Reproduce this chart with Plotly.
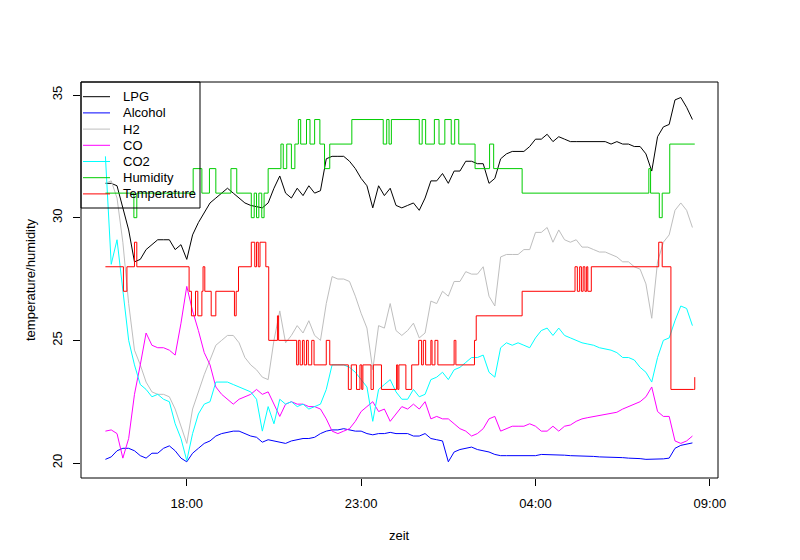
import pandas as pd
import plotly.graph_objects as go

# sensor readings, sampled every 10 minutes from 15:40 to 08:30
start = "2020-01-01 15:40"
end = "2020-01-02 08:30"

lpg = [31.4, 31.4, 31.3, 30.4, 29.5, 28.2, 28.3, 28.7, 28.9, 29.1, 29.1, 29.1, 28.7, 28.9, 28.3, 29.3, 29.8, 30.2, 30.6, 30.8, 31.0, 31.2, 31.0, 30.8, 30.6,
       30.5, 30.45, 30.4, 30.6, 31.2, 31.7, 31.0, 30.8, 31.2, 30.9, 31.3, 31.0, 31.1, 32.4, 32.5, 32.5, 32.5, 32.3, 32.0, 31.6, 31.3, 30.4, 31.3, 30.9, 31.2, 30.5,
       30.4, 30.5, 30.6, 30.3, 30.8, 31.5, 31.5, 31.8, 31.4, 31.9, 31.9, 32.3, 32.3, 32.2, 32.2, 31.4, 31.6, 32.4, 32.6, 32.7, 32.7, 32.7, 32.9, 33.2, 33.2, 33.4,
       33.1, 33.3, 33.2, 33.1, 33.1, 33.1, 33.1, 33.1, 33.1, 33.1, 33.0, 33.1, 33.0, 33.0, 32.9, 32.9, 32.6, 31.9, 33.3, 33.7, 33.8, 34.8, 34.9, 34.5, 34.0]

alcohol = [20.15, 20.25, 20.5, 20.6, 20.6, 20.5, 20.3, 20.2, 20.4, 20.4, 20.6, 20.7, 20.5, 20.2, 20.05, 20.4, 20.6, 20.8, 20.9, 21.1, 21.2, 21.25, 21.3, 21.3, 21.2,
           21.1, 21.05, 20.85, 20.95, 20.9, 20.85, 20.8, 20.9, 20.95, 21.0, 21.0, 21.05, 21.2, 21.3, 21.35, 21.35, 21.4, 21.35, 21.3, 21.3, 21.2, 21.15, 21.2, 21.2, 21.25, 21.2,
           21.2, 21.2, 21.1, 21.1, 21.2, 21.0, 20.95, 20.9, 20.05, 20.45, 20.55, 20.6, 20.65, 20.55, 20.5, 20.45, 20.35, 20.3, 20.3, 20.3, 20.3, 20.3, 20.3, 20.3, 20.35, 20.35,
           20.33, 20.32, 20.32, 20.3, 20.3, 20.28, 20.27, 20.27, 20.25, 20.25, 20.24, 20.23, 20.22, 20.2, 20.2, 20.18, 20.15, 20.15, 20.17, 20.17, 20.2, 20.6, 20.72, 20.78, 20.82]

h2 = [31.4, 31.5, 30.8, 29.0, 26.5, 24.6, 24.0, 23.3, 22.9, 22.8, 22.8, 22.7, 22.2, 21.5, 20.8, 22.2, 22.9, 23.6, 24.2, 24.8, 25.0, 25.2, 25.2, 24.9, 24.3,
      24.0, 23.8, 23.5, 23.4, 25.0, 26.2, 24.9, 25.2, 25.6, 25.3, 25.8, 25.2, 25.0, 26.5, 27.6, 27.5, 27.5, 27.4, 26.8, 26.1, 25.5, 23.8, 25.6, 25.5, 26.5, 25.4,
      25.2, 25.4, 25.7, 25.1, 25.3, 26.6, 26.5, 27.0, 26.8, 27.4, 27.4, 27.8, 27.7, 27.7, 28.0, 26.8, 26.4, 28.4, 28.5, 28.5, 28.5, 28.7, 28.7, 29.4, 29.4, 29.6,
      29.0, 29.5, 29.1, 29.0, 29.1, 28.8, 28.8, 28.7, 28.6, 28.6, 28.5, 28.4, 28.2, 28.2, 28.0, 27.9, 27.3, 25.9, 28.2, 29.0, 29.3, 30.3, 30.6, 30.3, 29.6]

co = [21.3, 21.35, 21.2, 20.2, 21.0, 22.8, 24.0, 25.3, 24.8, 24.7, 24.7, 24.6, 24.4, 25.7, 27.2, 26.2, 25.4, 24.5, 24.0, 23.1, 22.8, 22.6, 22.4, 22.6, 22.7,
      22.8, 23.0, 22.8, 22.9, 22.4, 21.9, 22.4, 22.5, 22.4, 22.4, 22.3, 22.3, 22.2, 21.8, 21.3, 21.2, 21.3, 21.4, 21.7, 22.1, 22.3, 22.5, 22.1, 22.2, 21.7, 22.0,
      22.3, 22.2, 22.4, 22.2, 22.5, 21.8, 21.9, 21.8, 21.8, 21.6, 21.4, 21.3, 21.1, 21.2, 21.4, 21.8, 21.9, 21.3, 21.4, 21.5, 21.5, 21.5, 21.6, 21.5, 21.3, 21.3,
      21.5, 21.3, 21.5, 21.55, 21.7, 21.8, 21.85, 21.9, 21.95, 22.0, 22.05, 22.07, 22.2, 22.3, 22.4, 22.5, 22.7, 23.1, 22.1, 21.9, 21.9, 20.9, 20.8, 20.9, 21.1]

co2 = [32.5, 28.1, 29.1, 27.1, 25.0, 24.0, 23.2, 23.0, 22.7, 22.8, 22.6, 22.5, 21.6, 21.0, 20.1, 21.2, 22.0, 22.4, 22.5, 23.3, 23.3, 23.3, 23.2, 23.1, 23.0,
       22.9, 22.6, 21.3, 22.3, 21.6, 22.6, 22.4, 22.5, 22.3, 22.4, 22.2, 22.3, 22.4, 23.0, 24.0, 24.0, 24.0, 23.9, 23.7, 23.4, 23.1, 21.7, 23.0, 23.2, 23.4, 22.9,
       22.6, 22.6, 23.0, 22.7, 22.8, 23.4, 23.5, 23.7, 23.4, 23.8, 23.9, 24.1, 24.3, 24.3, 24.4, 23.7, 23.5, 24.7, 24.9, 24.8, 24.9, 24.8, 24.7, 25.1, 25.4, 25.5,
       25.2, 25.5, 25.2, 25.1, 25.0, 24.9, 24.85, 24.8, 24.7, 24.65, 24.6, 24.5, 24.3, 24.3, 24.2, 23.9, 23.7, 23.3, 24.3, 25.0, 25.1, 25.8, 26.4, 26.3, 25.6]

# humidity and temperature only change in whole steps: (clock time, new value)
hum_times = ["15:40", "16:29", "16:34", "18:11", "18:26", "18:39", "18:50", "19:16", "19:26",
             "19:51", "19:56", "20:00", "20:04", "20:09", "20:13", "20:20", "20:42", "20:46", "20:52",
             "21:00", "21:06", "21:12", "21:16", "21:26", "21:32", "21:40", "21:49", "21:57", "22:06",
             "22:44", "23:38", "23:44", "23:48", "23:52", "00:40", "00:45", "00:51", "01:06", "01:14",
             "01:24", "01:35", "01:41", "01:48", "02:16", "02:41", "02:48", "03:37", "07:15", "07:18",
             "07:33", "07:38", "07:51", "08:34"]
hum_vals = [31, 30, 31, 32, 31, 32, 31, 32, 31,
            30, 31, 30, 31, 30, 31, 32, 33, 32, 33,
            32, 33, 34, 33, 34, 33, 34, 33, 32, 33,
            34, 33, 34, 33, 34, 33, 34, 33, 34, 33,
            34, 33, 34, 33, 32, 33, 32, 31, 32, 31,
            30, 31, 33, 33]

temp_times = ["15:40", "16:11", "16:17", "16:30", "16:34", "18:04", "18:08", "18:15", "18:19", "18:26",
              "18:28", "18:31", "18:42", "18:50", "19:22", "19:25", "19:29", "19:51", "19:57", "20:00",
              "20:03", "20:06", "20:16", "20:21", "20:36", "20:38", "21:09", "21:12", "21:15", "21:19",
              "21:22", "21:26", "21:29", "21:35", "21:39", "22:00", "22:06", "22:38", "22:43", "22:52",
              "22:58", "23:01", "23:03", "23:17", "23:21", "23:35", "00:01", "00:03", "00:05", "00:17",
              "00:27", "00:39", "00:44", "00:47", "00:51", "01:00", "01:02", "01:07", "01:12", "01:40",
              "01:43", "02:15", "02:18", "03:37", "05:08", "05:12", "05:16", "05:19", "05:22", "05:25",
              "05:28", "05:30", "05:36", "07:32", "07:38", "07:53", "08:32", "08:34"]
temp_vals = [28, 27, 28, 29, 28, 27, 26, 27, 26, 27,
             28, 27, 26, 27, 26, 27, 28, 29, 28, 29,
             28, 29, 28, 25, 26, 25, 24, 25, 24, 25,
             24, 25, 24, 25, 24, 25, 24, 23, 24, 23,
             24, 23, 24, 23, 24, 23, 24, 23, 24, 23,
             24, 25, 24, 25, 24, 25, 24, 25, 24, 25,
             24, 25, 26, 27, 28, 27, 28, 27, 28, 27,
             28, 27, 28, 29, 28, 23, 23, 23.5]

x_ticks = ["2020-01-01 18:00", "2020-01-01 23:00", "2020-01-02 04:00", "2020-01-02 09:00"]
x_labels = ["18:00", "23:00", "04:00", "09:00"]
y_ticks = [20, 25, 30, 35]


def to_stamp(hhmm):
    # times after midnight belong to the second day
    day = "2020-01-01" if int(hhmm[:2]) >= 12 else "2020-01-02"
    return pd.Timestamp(f"{day} {hhmm}")


grid = pd.date_range(start, end, freq="10min")
hum_x = [to_stamp(t) for t in hum_times]
temp_x = [to_stamp(t) for t in temp_times]

series = [
    ("LPG", grid, lpg, "#000000", "linear"),
    ("Alcohol", grid, alcohol, "#0000FF", "linear"),
    ("H2", grid, h2, "#BEBEBE", "linear"),
    ("CO", grid, co, "#FF00FF", "linear"),
    ("CO2", grid, co2, "#00FFFF", "linear"),
    ("Humidity", hum_x, hum_vals, "#00CD00", "hv"),
    ("Temperature", temp_x, temp_vals, "#FF0000", "hv"),
]

# page is offset by the body margin, so the figure is a bit smaller than the window
W, H = 792, 552
L, T, R, B = 73, 74, 82, 82
PW, PH = W - L - R, H - T - B


def px(dx):
    # pixels from the left edge of the plot box -> paper x
    return dx / PW


def py(dy):
    # pixels from the top edge of the plot box -> paper y
    return 1 - dy / PH


fig = go.Figure()
for name, xs, ys, color, shape in series:
    fig.add_trace(go.Scatter(x=xs, y=ys, name=name, mode="lines", showlegend=False,
                             line=dict(color=color, width=1, shape=shape)))

# hand drawn legend, R style: no fill, tight rows
fig.add_shape(type="rect", xref="paper", yref="paper",
              x0=0, y0=py(126), x1=px(119), y1=1,
              line=dict(color="black", width=1))
for ii, (name, xs, ys, color, shape) in enumerate(series):
    row = 14.7 + 16.2 * ii
    fig.add_shape(type="line", xref="paper", yref="paper",
                  x0=px(2), x1=px(29), y0=py(row), y1=py(row),
                  line=dict(color=color, width=1))
    fig.add_annotation(text=name, xref="paper", yref="paper", x=px(39.5), y=py(row),
                       xanchor="left", yanchor="middle", showarrow=False,
                       font=dict(size=13))

font = "Liberation Sans, Arial, sans-serif"
fig.update_layout(
    width=W, height=H,
    margin=dict(l=L, r=R, t=T, b=B),
    paper_bgcolor="white", plot_bgcolor="white",
    font=dict(family=font, size=13, color="black"),
    showlegend=False,
)
fig.update_xaxes(
    range=["2020-01-01 14:58", "2020-01-02 09:14"],
    tickvals=x_ticks, ticktext=x_labels,
    ticks="outside", ticklen=7, tickcolor="black",
    showgrid=False, zeroline=False, showline=False,
    ticklabelstandoff=6,
)
fig.update_yaxes(
    range=[19.39, 35.53],
    tickvals=y_ticks, tickangle=-90,
    ticks="outside", ticklen=7, tickcolor="black",
    showgrid=False, zeroline=False, showline=False,
    ticklabelstandoff=6,
)
# the box round the plot region
fig.add_shape(type="rect", xref="paper", yref="paper", x0=0, y0=0, x1=1, y1=1,
              line=dict(color="black", width=1), layer="above")
fig.add_annotation(text="zeit", xref="paper", yref="paper", x=0.5, y=0,
                   xanchor="center", yanchor="middle",
                   yshift=-57, showarrow=False, font=dict(size=13))
fig.add_annotation(text="temperature/humidity", xref="paper", yref="paper", x=0, y=0.5,
                   xanchor="center", yanchor="middle",
                   xshift=-51, textangle=-90, showarrow=False, font=dict(size=13))

fig.write_html("out.html")
